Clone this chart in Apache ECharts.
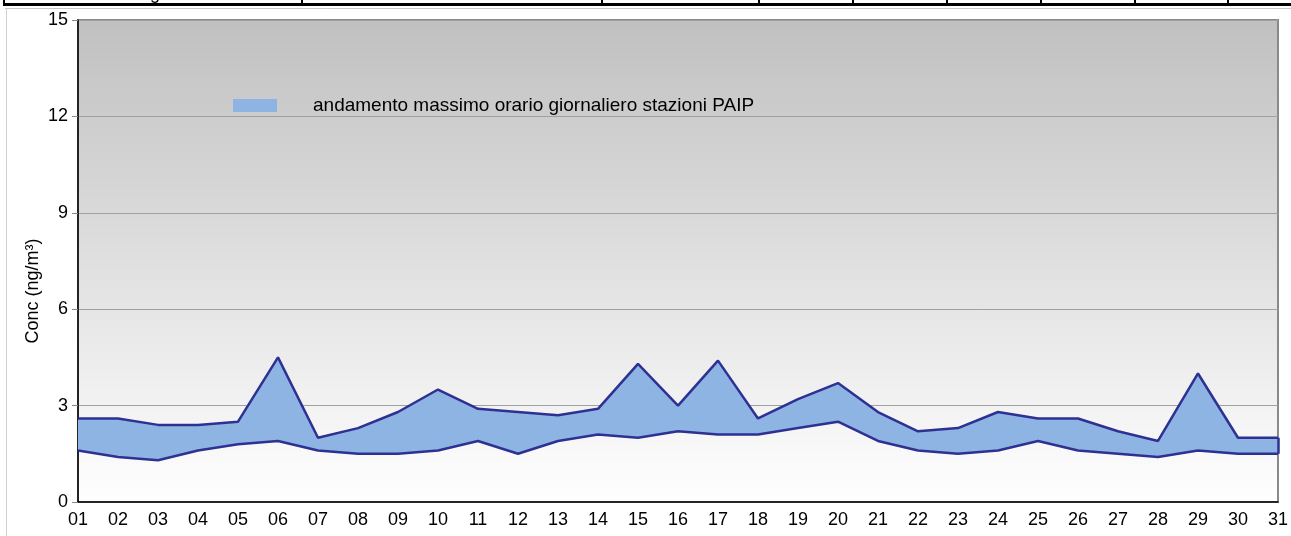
<!DOCTYPE html>
<html>
<head>
<meta charset="utf-8">
<script src="https://cdn.jsdelivr.net/npm/echarts@6/dist/echarts.min.js"></script>
<style>
  html, body { margin: 0; padding: 0; background: #fff; }
  #chart { width: 1291px; height: 536px; }
</style>
</head>
<body>
<div id="chart"></div>
<script>
// giorni del mese
var days = ['01','02','03','04','05','06','07','08','09','10','11','12','13','14','15','16',
            '17','18','19','20','21','22','23','24','25','26','27','28','29','30','31'];
// massimo orario giornaliero: limite superiore e inferiore della fascia stazioni PAIP
var bandMax = [2.6, 2.6, 2.4, 2.4, 2.5, 4.5, 2.0, 2.3, 2.8, 3.5, 2.9, 2.8, 2.7, 2.9, 4.3, 3.0,
               4.4, 2.6, 3.2, 3.7, 2.8, 2.2, 2.3, 2.8, 2.6, 2.6, 2.2, 1.9, 4.0, 2.0, 2.0];
var bandMin = [1.6, 1.4, 1.3, 1.6, 1.8, 1.9, 1.6, 1.5, 1.5, 1.6, 1.9, 1.5, 1.9, 2.1, 2.0, 2.2,
               2.1, 2.1, 2.3, 2.5, 1.9, 1.6, 1.5, 1.6, 1.9, 1.6, 1.5, 1.4, 1.6, 1.5, 1.5];
var yTicks = [0, 3, 6, 9, 12, 15];
var seriesName = 'andamento massimo orario giornaliero stazioni PAIP';

// spessore della fascia (serie impilata sopra il minimo)
var bandWidth = [];
for (var i = 0; i < days.length; i = i + 1) {
    bandWidth.push(Math.round((bandMax[i] - bandMin[i]) * 100) / 100);
}

var FONT = '"Liberation Sans", Arial, sans-serif';
var LINE = '#2e3192';
var FILL = '#8db4e3';
var last = days.length - 1;

// resti della tabella sopra il grafico
var topTicks = [4, 302, 602, 759, 853, 947, 1041, 1135, 1228];
var graphics = [
    { type: 'line', shape: { x1: 3, y1: 4.5, x2: 1291, y2: 4.5 }, style: { stroke: '#000', lineWidth: 3 } },
    { type: 'line', shape: { x1: 5, y1: 8.5, x2: 1291, y2: 8.5 }, style: { stroke: '#c8c8c8', lineWidth: 1 } },
    { type: 'line', shape: { x1: 6.5, y1: 8, x2: 6.5, y2: 536 }, style: { stroke: '#d0d0d0', lineWidth: 1 } },
    { type: 'text', x: 155, y: 3, style: { text: 'g', font: '18px ' + FONT, fill: '#000', textAlign: 'center', textVerticalAlign: 'bottom' } },
    {
        type: 'text', x: 33, y: 291, rotation: Math.PI / 2,
        style: { text: 'Conc (ng/m³)', font: '18px ' + FONT, fill: '#000', textAlign: 'center', textVerticalAlign: 'middle' }
    }
];
for (var k = 0; k < topTicks.length; k = k + 1) {
    graphics.push({ type: 'line', shape: { x1: topTicks[k], y1: 0, x2: topTicks[k], y2: 5 }, style: { stroke: '#000', lineWidth: 2 } });
}

var chart = echarts.init(document.getElementById('chart'));
chart.setOption({
    animation: false,
    backgroundColor: '#fff',
    textStyle: { fontFamily: FONT },
    grid: {
        left: 78, right: 11, top: 20, bottom: 34,
        show: true,
        borderColor: '#8a8a8a',
        borderWidth: 2,
        backgroundColor: new echarts.graphic.LinearGradient(0, 0, 0, 1, [
            { offset: 0, color: '#c0c0c0' },
            { offset: 1, color: '#ffffff' }
        ])
    },
    legend: {
        left: 228, top: 91,
        itemWidth: 44, itemHeight: 13,
        textStyle: { fontSize: 19, color: '#000', padding: [0, 0, 0, 31] },
        data: [{
            name: seriesName,
            icon: 'rect',
            itemStyle: { color: FILL, borderWidth: 0 }
        }]
    },
    xAxis: {
        type: 'category',
        data: days,
        boundaryGap: false,
        axisLine: { lineStyle: { color: '#000', width: 1.5 } },
        axisTick: { show: false },
        axisLabel: { color: '#000', fontSize: 18, margin: 9, interval: 0 },
        splitLine: { show: false }
    },
    yAxis: {
        type: 'value',
        min: yTicks[0], max: yTicks[yTicks.length - 1], interval: yTicks[1] - yTicks[0],
        axisLine: { show: true, lineStyle: { color: '#000', width: 1.5 } },
        axisTick: { show: true, length: 6, lineStyle: { color: '#888' } },
        axisLabel: { color: '#000', fontSize: 18, margin: 10 },
        splitLine: { lineStyle: { color: '#a0a0a0', width: 1 } }
    },
    series: [
        {
            name: 'minimo',
            type: 'line',
            stack: 'fascia',
            data: bandMin,
            symbol: 'none',
            z: 4,
            lineStyle: { color: LINE, width: 2.5 },
            itemStyle: { color: LINE }
        },
        {
            name: seriesName,
            type: 'line',
            stack: 'fascia',
            data: bandWidth,
            symbol: 'none',
            z: 3,
            lineStyle: { color: LINE, width: 2.5 },
            itemStyle: { color: LINE },
            areaStyle: { color: FILL, opacity: 1 },
            markLine: {
                silent: true,
                symbol: 'none',
                label: { show: false },
                lineStyle: { color: LINE, width: 2.5, type: 'solid' },
                data: [[
                    { coord: [days[last], bandMin[last]] },
                    { coord: [days[last], bandMax[last]] }
                ]]
            }
        }
    ],
    graphic: graphics
});
</script>
</body>
</html>
